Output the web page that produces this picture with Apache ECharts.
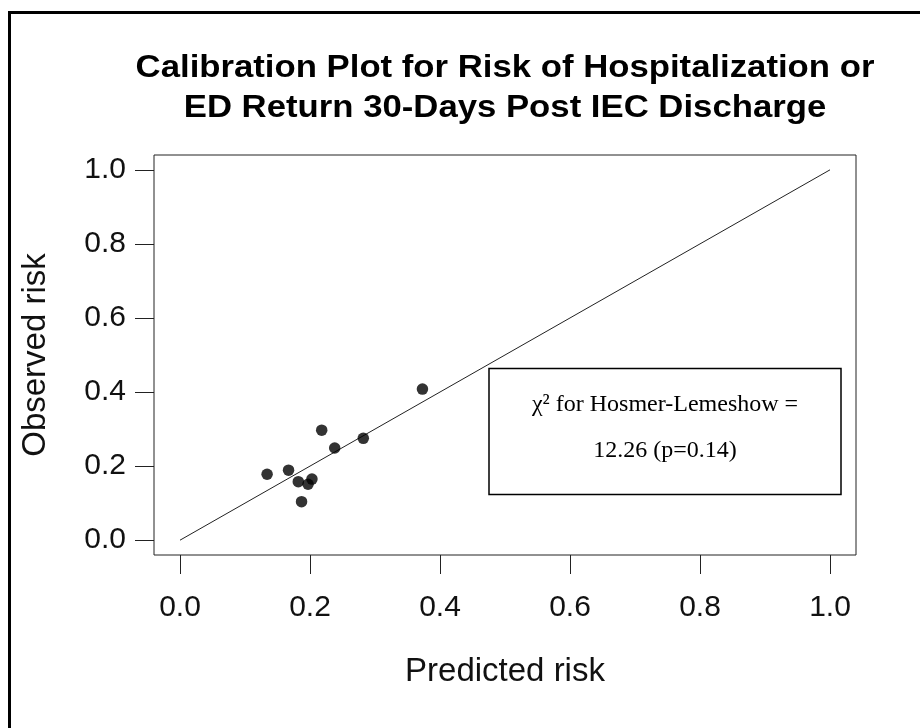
<!DOCTYPE html>
<html>
<head>
<meta charset="utf-8">
<script src="https://cdn.jsdelivr.net/npm/echarts@6/dist/echarts.min.js"></script>
<style>html,body{margin:0;padding:0;background:#fff}#c{width:920px;height:728px}</style>
</head>
<body>
<div id="c"></div>
<script>
var titleLines = ['Calibration Plot for Risk of Hospitalization or', 'ED Return 30-Days Post IEC Discharge'];
var xName = 'Predicted risk';
var yName = 'Observed risk';
var tickValues = [0, 0.2, 0.4, 0.6, 0.8, 1.0];
var predicted = [0.373, 0.218, 0.282, 0.238, 0.134, 0.167, 0.182, 0.203, 0.197, 0.187];
var observed  = [0.408, 0.297, 0.275, 0.249, 0.178, 0.189, 0.158, 0.165, 0.151, 0.104];
var refLine = [[0, 0], [1, 1]];
var annotationLines = ['\u03c7\u00b2 for Hosmer-Lemeshow =', '12.26 (p=0.14)'];

var points = predicted.map(function (p, i) { return [p, observed[i]]; });

var chart = echarts.init(document.getElementById('c'), null, { renderer: 'canvas' });
var axisCommon = {
  type: 'value', min: -0.04, max: 1.04,
  splitLine: { show: false },
  axisLine: { show: false, onZero: false },
  axisTick: { show: true, inside: false, length: 19, customValues: tickValues, lineStyle: { color: '#222', width: 1 } },
  axisLabel: { customValues: tickValues, color: '#111', fontFamily: 'Liberation Sans', fontSize: 30,
    formatter: function (v) { return v.toFixed(1); } },
  nameLocation: 'middle',
  nameTextStyle: { color: '#111', fontFamily: 'Liberation Sans', fontSize: 33 }
};
function titleText(str, y) {
  return { type: 'text', x: 505, y: y, scaleX: 1.12, z: 20,
    style: { text: str, fontFamily: 'Liberation Sans', fontWeight: 'bold', fontSize: 31, fill: '#000', align: 'center', verticalAlign: 'middle' } };
}
chart.setOption({
  animation: false,
  backgroundColor: '#fff',
  grid: { left: 154, top: 155, width: 702, height: 400, show: true, borderColor: '#222', borderWidth: 1, backgroundColor: 'transparent' },
  xAxis: Object.assign({}, axisCommon, {
    name: xName, nameGap: 100,
    axisLabel: Object.assign({}, axisCommon.axisLabel, { margin: 38 })
  }),
  yAxis: Object.assign({}, axisCommon, {
    name: yName, nameGap: 102,
    axisLabel: Object.assign({}, axisCommon.axisLabel, { margin: 28 })
  }),
  series: [
    { type: 'line', data: refLine, symbol: 'none', lineStyle: { color: '#222', width: 1 }, silent: true, z: 2 },
    { type: 'scatter', data: points, symbol: 'circle', symbolSize: 11.5, itemStyle: { color: '#000' }, z: 3 }
  ],
  graphic: [
    { type: 'rect', shape: { x: 8, y: 11, width: 912, height: 3 }, style: { fill: '#000' } },
    { type: 'rect', shape: { x: 8, y: 11, width: 3, height: 717 }, style: { fill: '#000' } },
    titleText(titleLines[0], 68),
    titleText(titleLines[1], 108),
    { type: 'rect', shape: { x: 489, y: 368.5, width: 352, height: 126 }, style: { fill: '#fff', stroke: '#000', lineWidth: 1.5 }, z: 10 },
    { type: 'text', x: 665, y: 405, z: 11, style: { text: annotationLines[0], fontFamily: 'Liberation Serif', fontSize: 24, fill: '#000', align: 'center', verticalAlign: 'middle' } },
    { type: 'text', x: 665, y: 451, z: 11, style: { text: annotationLines[1], fontFamily: 'Liberation Serif', fontSize: 24, fill: '#000', align: 'center', verticalAlign: 'middle' } }
  ]
});
</script>
</body>
</html>
